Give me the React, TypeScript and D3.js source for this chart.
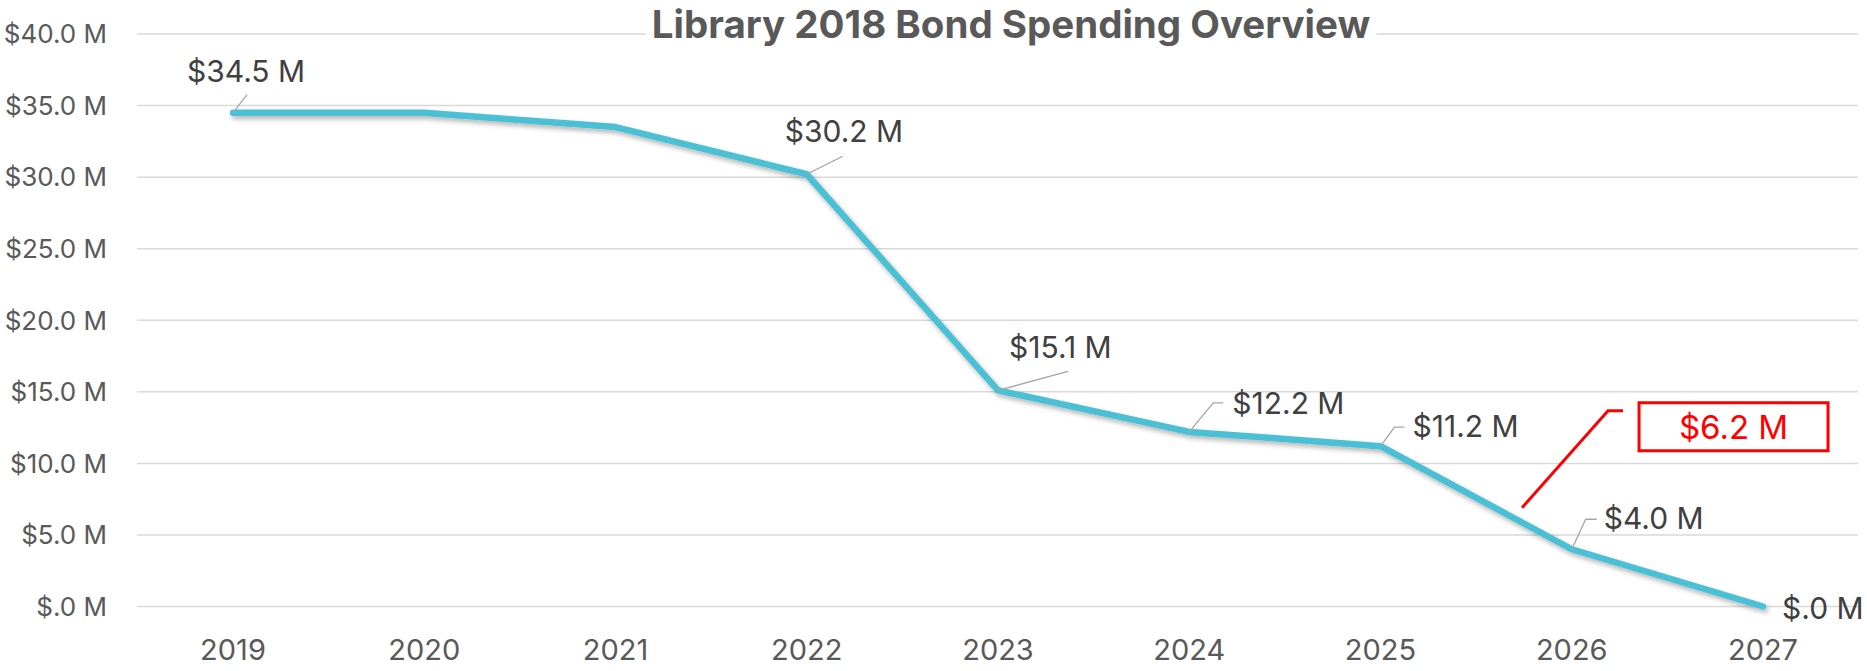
import React, { useRef, useEffect } from "react";
import * as d3 from "d3";

const years = ["2019", "2020", "2021", "2022", "2023", "2024", "2025", "2026", "2027"];
const remaining = [34.5, 34.5, 33.5, 30.2, 15.1, 12.2, 11.2, 4.0, 0.0];
const labelledYears = ["2019", "2022", "2023", "2024", "2025", "2026", "2027"];
const yTicks = [0, 5, 10, 15, 20, 25, 30, 35, 40];
const chartTitle = "Library 2018 Bond Spending Overview";
const calloutText = "$6.2 M";
// callout anchor sits between 2025 and 2026, in data units
const calloutFrom = "2025";
const calloutFrac = 0.74;
const calloutValue = 6.9;

const W = 1867;
const H = 671;

// label placement relative to each point: text start + leader path
const labelLayout: Record<string, { dx: number; dy: number; leader: [number, number][] }> = {
    "2019": { dx: -46, dy: -31, leader: [[14, -18]] },
    "2022": { dx: -22, dy: -32, leader: [[36, -18]] },
    "2023": { dx: 11, dy: -32, leader: [[70, -19]] },
    "2024": { dx: 43, dy: -18, leader: [[24, -29], [34, -29]] },
    "2025": { dx: 32, dy: -9, leader: [[14, -19], [24, -19]] },
    "2026": { dx: 32, dy: -20, leader: [[14, -30], [25, -30]] },
    "2027": { dx: 19, dy: 12, leader: [] },
};

const fmt = (v: number) => "$" + d3.format(".1f")(v).replace(/^0/, "") + " M";

const BondChart: React.FC = () => {
    const svgRef = useRef<SVGSVGElement | null>(null);

    useEffect(() => {
        document.body.style.margin = "0";
        const svg = d3.select(svgRef.current);
        svg.selectAll("*").remove();
        svg.attr("width", W).attr("height", H);

        const font = "Inter, 'Noto Sans', sans-serif";

        const x = d3.scalePoint<string>().domain(years).range([233, 1763]);
        const y = d3.scaleLinear().domain([0, 40]).range([606.5, 34]);
        const gridX0 = 137;
        const gridX1 = 1858;

        const defs = svg.append("defs");
        const f = defs
            .append("filter")
            .attr("id", "shadow")
            .attr("x", "-5%")
            .attr("y", "-20%")
            .attr("width", "110%")
            .attr("height", "140%");
        f.append("feDropShadow")
            .attr("dx", 2)
            .attr("dy", 3)
            .attr("stdDeviation", 2.5)
            .attr("flood-color", "#000")
            .attr("flood-opacity", 0.3);

        // gridlines
        svg.append("g")
            .selectAll("line")
            .data(yTicks)
            .join("line")
            .attr("x1", gridX0)
            .attr("x2", gridX1)
            .attr("y1", (d) => y(d))
            .attr("y2", (d) => y(d))
            .attr("stroke", "#d9d9d9")
            .attr("stroke-width", 1.5);

        // y tick labels
        svg.append("g")
            .selectAll("text")
            .data(yTicks)
            .join("text")
            .attr("x", 107)
            .attr("y", (d) => y(d))
            .attr("dy", "0.36em")
            .attr("text-anchor", "end")
            .attr("font-family", font)
            .attr("font-size", 26)
            .attr("fill", "#595959")
            .text((d) => fmt(d));

        // x labels
        svg.append("g")
            .selectAll("text")
            .data(years)
            .join("text")
            .attr("x", (d) => x(d)!)
            .attr("y", 660)
            .attr("text-anchor", "middle")
            .attr("font-family", font)
            .attr("font-size", 29)
            .attr("fill", "#595959")
            .text((d) => d);

        // title with white backing
        const tg = svg.append("g");
        const title = tg
            .append("text")
            .attr("x", 1011)
            .attr("y", 37.5)
            .attr("text-anchor", "middle")
            .attr("font-family", font)
            .attr("font-weight", 700)
            .attr("font-size", 38.5)
            .attr("fill", "#595959")
            .text(chartTitle);
        const bb = (title.node() as SVGTextElement).getBBox();
        const top = Math.max(0, bb.y);
        tg.insert("rect", "text")
            .attr("x", bb.x - 6)
            .attr("y", top)
            .attr("width", bb.width + 12)
            .attr("height", bb.y + bb.height - top)
            .attr("fill", "#fff");

        // main line
        const pts = years.map((yr, i) => ({ yr, v: remaining[i] }));
        const line = d3
            .line<{ yr: string; v: number }>()
            .x((d) => x(d.yr)!)
            .y((d) => y(d.v));
        svg.append("path")
            .datum(pts)
            .attr("d", line)
            .attr("fill", "none")
            .attr("stroke", "#4bbfd3")
            .attr("stroke-width", 6.5)
            .attr("stroke-linejoin", "round")
            .attr("stroke-linecap", "round")
            .attr("filter", "url(#shadow)");

        // data labels + leaders
        const lab = svg.append("g");
        pts.filter((p) => labelledYears.includes(p.yr)).forEach((p) => {
            const px = x(p.yr)!;
            const py = y(p.v);
            const lay = labelLayout[p.yr];
            if (lay.leader.length) {
                const path = d3.path();
                path.moveTo(px, py);
                lay.leader.forEach(([dx, dy]) => path.lineTo(px + dx, py + dy));
                lab.append("path")
                    .attr("d", path.toString())
                    .attr("fill", "none")
                    .attr("stroke", "#a6a6a6")
                    .attr("stroke-width", 1.3);
            }
            lab.append("text")
                .attr("x", px + lay.dx)
                .attr("y", py + lay.dy)
                .attr("font-family", font)
                .attr("font-size", 30)
                .attr("fill", "#404040")
                .text(fmt(p.v));
        });

        // red callout
        const ax = x(calloutFrom)! + calloutFrac * x.step();
        const ay = y(calloutValue);
        const cg = svg.append("g");
        cg.append("path")
            .attr("d", `M${ax},${ay}L${ax + 86},${ay - 97}L${ax + 101},${ay - 97}`)
            .attr("fill", "none")
            .attr("stroke", "#ff0000")
            .attr("stroke-width", 3);
        cg.append("rect")
            .attr("x", ax + 117)
            .attr("y", ay - 105)
            .attr("width", 189)
            .attr("height", 48)
            .attr("fill", "#fff")
            .attr("stroke", "#ff0000")
            .attr("stroke-width", 3);
        cg.append("text")
            .attr("x", ax + 117 + 94.5)
            .attr("y", ay - 69)
            .attr("text-anchor", "middle")
            .attr("font-family", font)
            .attr("font-size", 33)
            .attr("fill", "#ff0000")
            .text(calloutText);

        return () => {
            svg.selectAll("*").remove();
        };
    }, []);

    return <svg ref={svgRef} style={{ display: "block" }}></svg>;
};

export default function App() {
    return <BondChart />;
}
